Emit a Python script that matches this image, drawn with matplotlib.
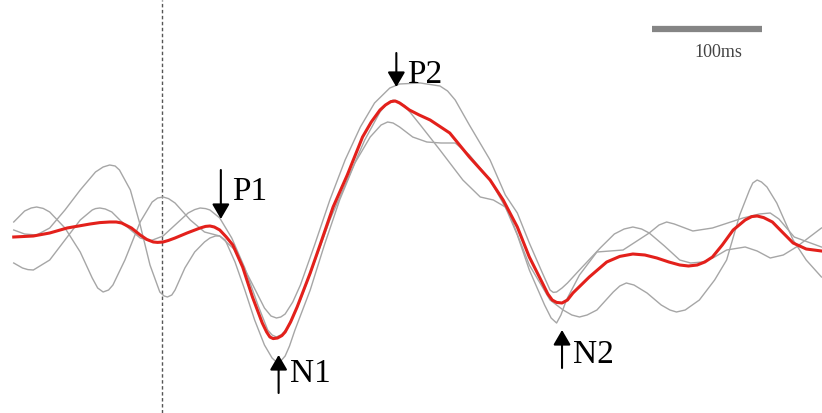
import matplotlib

matplotlib.use("Agg")
import matplotlib.pyplot as plt

# ERP traces: time (ms from stimulus onset), amplitude (uV)
RED_T = [-136, -118, -103, -87, -66, -57, -48, -42, -37, -28, -20, -14, -8, -4,
         1, 6, 12, 23, 35, 40, 44, 48, 53, 59, 65, 74, 83, 92, 96, 99, 102, 106,
         110, 113, 118, 124, 136, 145, 157, 170, 184, 192, 200, 205, 210, 214,
         218, 222, 227, 236, 246, 264, 282, 301, 313, 326, 337, 349, 354, 358,
         362, 367, 372, 377, 392, 408, 420, 432, 443, 454, 465, 475, 483, 491,
         498, 505, 514, 524, 535, 541, 546, 552, 560, 569, 579, 591, 605]
RED_V = [0.15, 0.2, 0.35, 0.6, 0.8, 0.87, 0.9, 0.9, 0.85, 0.6, 0.25, 0.03, -0.1,
         -0.12, -0.1, -0.02, 0.1, 0.35, 0.6, 0.68, 0.7, 0.65, 0.5, 0.15, -0.25,
         -1.35, -2.85, -4.15, -4.6, -4.85, -4.93, -4.9, -4.78, -4.6, -4.1, -3.35,
         -1.65, -0.25, 1.65, 3.25, 5.15, 5.9, 6.5, 6.75, 6.92, 6.95, 6.85, 6.7,
         6.5, 6.25, 6.0, 5.35, 4.15, 3.0, 2.0, 0.65, -0.85, -2.15, -2.7, -3.0,
         -3.12, -3.15, -3.0, -2.65, -1.85, -1.1, -0.82, -0.7, -0.75, -0.9, -1.1,
         -1.25, -1.3, -1.25, -1.1, -0.85, -0.25, 0.5, 1.0, 1.17, 1.2, 1.12, 0.9,
         0.4, -0.15, -0.45, -0.55]

GRAY1_T = [-136, -126, -120, -115, -109, -103, -89, -75, -64, -59, -54, -49, -45,
           -34, -20, -9, -4, 1, 6, 12, 26, 39, 53, 67, 81, 94, 100, 105, 109, 113,
           120, 127, 140, 154, 168, 182, 195, 209, 218, 237, 255, 262, 269, 282,
           301, 315, 326, 337, 349, 356, 359, 362, 367, 372, 383, 402, 415, 424,
           432, 440, 447, 461, 475, 485, 496, 507, 518, 535, 546, 558, 570, 582,
           605]
GRAY1_V = [0.9, 1.45, 1.6, 1.65, 1.58, 1.4, 0.6, -0.6, -1.9, -2.4, -2.6, -2.5,
           -2.25, -1.0, 0.9, 1.9, 2.1, 2.15, 2.07, 1.85, 1.0, 0.4, 0.2, -0.5,
           -2.0, -3.4, -3.8, -3.9, -3.85, -3.7, -3.1, -2.25, -0.25, 2.0, 4.0,
           5.65, 6.85, 7.6, 7.8, 7.85, 7.7, 7.45, 7.0, 5.75, 4.0, 2.25, 1.35,
           -0.15, -1.65, -2.5, -2.62, -2.6, -2.4, -2.15, -1.5, -0.4, 0.3, 0.55,
           0.65, 0.55, 0.35, -0.3, -1.0, -1.15, -1.1, -0.85, -0.5, -0.35, -0.55,
           -0.9, -0.75, -0.35, 0.6]

GRAY2_T = [-136, -126, -115, -103, -89, -75, -61, -54, -48, -43, -39, -29, -20,
           -11, -2, 2, 5, 9, 12, 21, 30, 39, 44, 49, 53, 58, 67, 76, 85, 94, 101,
           104, 106, 109, 113, 117, 122, 136, 149, 163, 177, 191, 201, 207, 212,
           218, 230, 243, 256, 269, 282, 301, 319, 337, 356, 368, 376, 383, 390,
           399, 414, 420, 426, 433, 445, 458, 466, 472, 480, 493, 507, 518, 530,
           539, 542, 546, 550, 555, 564, 579, 591, 605]
GRAY2_V = [0.5, 0.3, 0.25, 0.6, 1.5, 2.5, 3.4, 3.65, 3.75, 3.7, 3.5, 2.5, 0.75,
           -1.25, -2.6, -2.8, -2.85, -2.75, -2.5, -1.4, -0.6, -0.1, 0.1, 0.2, 0.2,
           0.0, -1.1, -2.5, -4.0, -5.25, -5.9, -6.05, -6.1, -6.05, -5.8, -5.3,
           -4.5, -2.5, -0.25, 2.0, 3.85, 5.15, 5.75, 5.9, 5.85, 5.65, 5.15, 4.9,
           4.85, 4.85, 4.25, 3.0, 1.25, -1.25, -3.0, -3.5, -3.75, -3.85, -3.75,
           -3.5, -2.6, -2.3, -2.15, -2.25, -2.65, -3.25, -3.5, -3.6, -3.5, -3.0,
           -2.0, -1.0, 1.25, 2.5, 2.85, 3.0, 2.9, 2.65, 1.85, 0.0, -1.0, -1.85]

GRAY3_T = [-136, -128, -123, -118, -103, -89, -75, -64, -61, -57, -52, -46, -34,
           -20, -11, 1, 12, 24, 30, 35, 40, 44, 53, 64, 76, 88, 97, 101, 105, 110,
           115, 127, 140, 154, 172, 186, 200, 207, 212, 217, 223, 237, 255, 276,
           292, 304, 315, 326, 337, 351, 357, 362, 366, 371, 383, 399, 423, 447,
           456, 463, 470, 487, 505, 533, 548, 558, 566, 580, 605]
GRAY3_V = [-1.15, -1.4, -1.48, -1.5, -1.0, 0.0, 1.0, 1.5, 1.57, 1.6, 1.55, 1.4,
           0.75, 0.1, -0.05, 0.2, 0.75, 1.35, 1.52, 1.6, 1.57, 1.5, 1.1, 0.1,
           -1.4, -3.25, -4.5, -4.75, -4.85, -4.72, -4.4, -3.0, -1.1, 1.0, 3.25,
           5.0, 6.4, 6.85, 7.0, 6.92, 6.7, 5.75, 4.5, 3.0, 2.15, 2.0, 1.65, 0.25,
           -1.5, -3.25, -3.9, -4.15, -3.75, -3.0, -1.75, -0.6, -0.5, 0.35, 0.75,
           0.9, 0.8, 0.45, 0.6, 1.1, 1.3, 1.35, 1.05, 0.15, -0.35]

# component markers: name, latency (ms), arrow start / tip amplitude, label baseline
PEAK_NAMES = ["P1", "N1", "P2", "N2"]
PEAK_T = [54, 107, 215, 367]
ARROW_FROM = [3.5, -7.65, 9.35, -6.4]
ARROW_TO = [1.05, -5.75, 7.65, -4.5]
LABEL_V = [2.0, -7.1, 7.85, -6.15]

SCALE_T = [450, 550]
SCALE_V = 10.55


def main() -> None:
    fig = plt.figure(figsize=(8.22, 4.13), dpi=100)
    ax = fig.add_axes([0, 0, 1, 1])
    ax.set_xlim(-148.6, 605.5)
    ax.set_ylim(-8.65, 12)
    ax.axis("off")

    ax.axvline(0, color="#555555", lw=1.0, ls=(0, (2.5, 1.8)))

    for t, v in [(GRAY1_T, GRAY1_V), (GRAY2_T, GRAY2_V), (GRAY3_T, GRAY3_V)]:
        ax.plot(t, v, color="#a6a6a6", lw=1.0, solid_joinstyle="round")
    ax.plot(RED_T, RED_V, color="#e3201b", lw=2.2, solid_joinstyle="round")

    serif = ["Liberation Serif", "DejaVu Serif"]
    for name, t, v0, v1, vl in zip(PEAK_NAMES, PEAK_T, ARROW_FROM, ARROW_TO, LABEL_V):
        ax.annotate(
            "", xy=(t, v1), xytext=(t, v0),
            arrowprops=dict(arrowstyle="-|>,head_length=0.6,head_width=0.35",
                            color="black", lw=1.5, mutation_scale=15,
                            shrinkA=0, shrinkB=0),
        )
        ax.text(t + 10, vl, name, family=serif, fontsize=24,
                ha="left", va="baseline", color="black")

    ax.plot(SCALE_T, [SCALE_V, SCALE_V], color="#858585", lw=4.5,
            solid_capstyle="butt")
    ax.text(510, 9.15, "100ms", family=serif, fontsize=13,
            ha="center", va="baseline", color="#444444")

    fig.savefig("out.png", dpi=100, facecolor="white")
    plt.close(fig)


if __name__ == "__main__":
    main()
